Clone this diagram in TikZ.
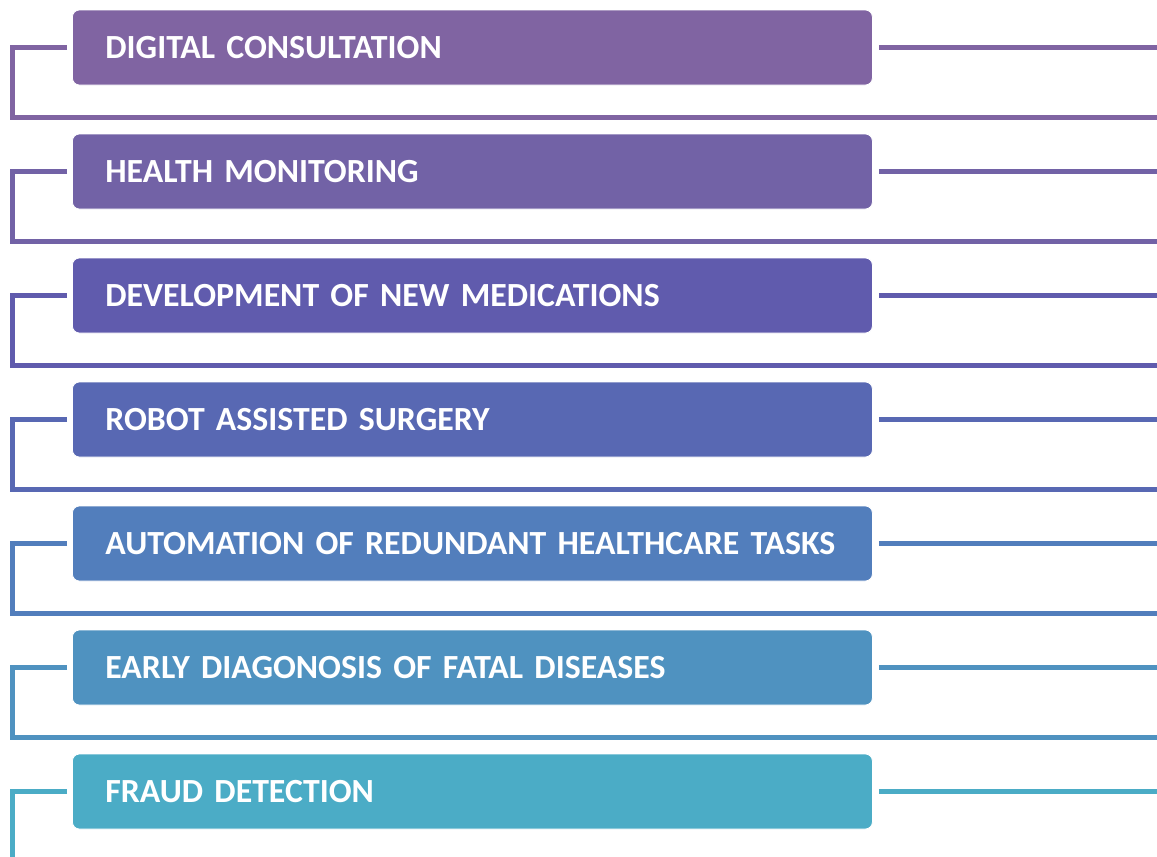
\documentclass[tikz,border=0pt]{standalone}
\usepackage{fontspec}
\setmainfont{Carlito}
\definecolor{rowA}{HTML}{8064A2}
\definecolor{rowB}{HTML}{7262A6}
\definecolor{rowC}{HTML}{605BAD}
\definecolor{rowD}{HTML}{5868B3}
\definecolor{rowE}{HTML}{527EBC}
\definecolor{rowF}{HTML}{4F92C0}
\definecolor{rowG}{HTML}{4BACC6}
\begin{document}
\begin{tikzpicture}[x=1pt,y=-1pt,
  itembox/.style={draw=white, line width=0.8pt, fill=#1, rounded corners=7pt,
    minimum width=800pt, minimum height=75pt, text width=734pt,
    inner xsep=33pt, inner ysep=0pt, align=left, anchor=west,
    text=white, font=\bfseries\fontsize{33.8}{38}\selectfont},
  bracket/.style={draw=#1, line width=5pt, line join=miter, line cap=butt}]
\useasboundingbox (0,0) rectangle (1157,857);

\foreach \i/\col/\txt in {
  0/rowA/DIGITAL CONSULTATION,
  1/rowB/HEALTH MONITORING,
  2/rowC/DEVELOPMENT OF NEW MEDICATIONS,
  3/rowD/ROBOT ASSISTED SURGERY,
  4/rowE/AUTOMATION OF REDUNDANT HEALTHCARE TASKS,
  5/rowF/EARLY DIAGONOSIS OF FATAL DISEASES,
  6/rowG/FRAUD DETECTION}{
  \pgfmathsetmacro{\cy}{47.5+124*\i}
  \pgfmathsetmacro{\by}{117+124*\i}
  \node[itembox=\col] (box\i) at (72,\cy) {\txt};
  % bracket on the left, running under the box to the right edge
  \coordinate (lc\i) at (12.5,\cy);
  \coordinate (rc\i) at (1157,\by);
  \coordinate (re\i) at (1157,\cy);
  \draw[bracket=\col] ([xshift=-5pt]box\i.west) -- (lc\i) |- (rc\i);
  % line leaving the box on the right
  \draw[bracket=\col] ([xshift=6pt]box\i.east) -- (re\i);
}
\end{tikzpicture}
\end{document}
